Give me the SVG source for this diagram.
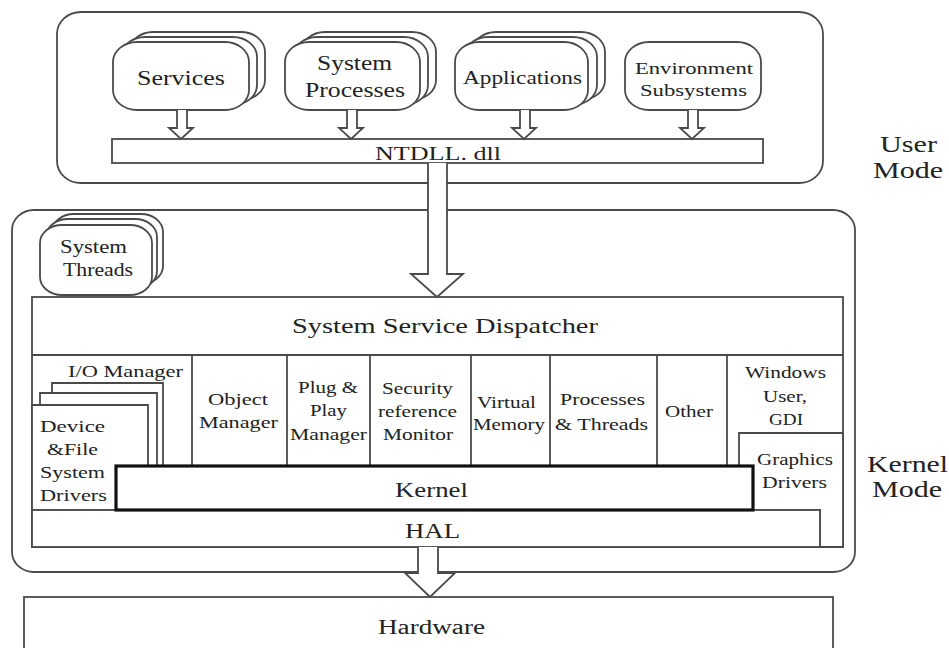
<svg xmlns="http://www.w3.org/2000/svg" width="949" height="648" viewBox="0 0 949 648">
<style>
.b{fill:#fff;stroke:#4a4a4a;stroke-width:1.8}
.l{fill:none;stroke:#4a4a4a;stroke-width:1.8}
.k{fill:#fff;stroke:#111;stroke-width:3.2}
.a{fill:#fff;stroke:#4a4a4a;stroke-width:1.8;stroke-linejoin:miter}
text{font-family:"Liberation Serif","Times New Roman",serif;fill:#222;font-size:17px}
.f20{font-size:20px}.f19{font-size:18.5px}.f16{font-size:17px}.f18{font-size:18px}.f21{font-size:21.5px}.f23{font-size:23px}
</style>
<rect width="949" height="648" fill="#fff"/>

<g id="user-mode-box">
<rect class="b" x="57" y="12" width="766" height="171" rx="24" ry="22"/>
</g>
<g id="user-mode-label">
<text class="f23" transform="translate(880,152) scale(1.28,1)" textLength="44.5" lengthAdjust="spacingAndGlyphs">User</text>
<text class="f23" transform="translate(873,178) scale(1.28,1)" textLength="54.7" lengthAdjust="spacingAndGlyphs">Mode</text>
</g>

<g id="services">
<rect class="b" x="129" y="32" width="136" height="68" rx="24" ry="20"/>
<rect class="b" x="121" y="37" width="136" height="68" rx="24" ry="20"/>
<rect class="b" x="113" y="42" width="136" height="68" rx="24" ry="20"/>
<text class="f20" transform="translate(137,85) scale(1.28,1)" textLength="68.7" lengthAdjust="spacingAndGlyphs">Services</text>
</g>
<g id="system-processes">
<rect class="b" x="301" y="32" width="135" height="68" rx="24" ry="20"/>
<rect class="b" x="293" y="37" width="135" height="68" rx="24" ry="20"/>
<rect class="b" x="285" y="42" width="135" height="68" rx="24" ry="20"/>
<text class="f20" transform="translate(317,70) scale(1.28,1)" textLength="58.6" lengthAdjust="spacingAndGlyphs">System</text>
<text class="f20" transform="translate(305,97) scale(1.28,1)" textLength="78.1" lengthAdjust="spacingAndGlyphs">Processes</text>
</g>
<g id="applications">
<rect class="b" x="472" y="32" width="133" height="68" rx="24" ry="20"/>
<rect class="b" x="464" y="37" width="133" height="68" rx="24" ry="20"/>
<rect class="b" x="455" y="42" width="133" height="68" rx="24" ry="20"/>
<text class="f19" transform="translate(463,84) scale(1.28,1)" textLength="93" lengthAdjust="spacingAndGlyphs">Applications</text>
</g>
<g id="environment-subsystems">
<rect class="b" x="625" y="42" width="136" height="68" rx="24" ry="20"/>
<text class="f16" transform="translate(635,74) scale(1.28,1)" textLength="92.2" lengthAdjust="spacingAndGlyphs">Environment</text>
<text class="f16" transform="translate(640,96) scale(1.28,1)" textLength="83.6" lengthAdjust="spacingAndGlyphs">Subsystems</text>
</g>
<g id="ntdll">
<rect class="b" x="112" y="139" width="651" height="24"/>
<text class="f19" transform="translate(375,160) scale(1.28,1)" textLength="98.4" lengthAdjust="spacingAndGlyphs">NTDLL. dll</text>
</g>

<g id="kernel-mode-box">
<rect class="b" x="12" y="210" width="843" height="362" rx="22" ry="20"/>
</g>
<g id="kernel-mode-label">
<text class="f23" transform="translate(867,472) scale(1.28,1)" textLength="63.3" lengthAdjust="spacingAndGlyphs">Kernel</text>
<text class="f23" transform="translate(872,497) scale(1.28,1)" textLength="54.7" lengthAdjust="spacingAndGlyphs">Mode</text>
</g>

<g id="system-threads">
<rect class="b" x="52" y="214" width="111" height="70" rx="22" ry="18"/>
<rect class="b" x="46" y="219" width="111" height="70" rx="22" ry="18"/>
<rect class="b" x="40" y="225" width="112" height="70" rx="22" ry="18"/>
<text class="f18" transform="translate(60,253) scale(1.28,1)" textLength="52.3" lengthAdjust="spacingAndGlyphs">System</text>
<text class="f18" transform="translate(63,276) scale(1.28,1)" textLength="54.7" lengthAdjust="spacingAndGlyphs">Threads</text>
</g>

<g id="system-service-dispatcher">
<rect class="b" x="32" y="297" width="811" height="250"/>
<line class="l" x1="32" y1="355" x2="843" y2="355"/>
<text class="f21" transform="translate(292,333) scale(1.28,1)" textLength="239" lengthAdjust="spacingAndGlyphs">System Service Dispatcher</text>
</g>

<g id="io-manager">
<line class="l" x1="192" y1="355" x2="192" y2="466"/>
<text transform="translate(68,377) scale(1.28,1)" textLength="89.8" lengthAdjust="spacingAndGlyphs">I/O Manager</text>
</g>
<g id="device-file-system-drivers">
<path class="b" d="M52,393 V383 H163 V466 H157"/>
<path class="b" d="M40,405 V393 H157 V466 H148"/>
<path class="b" d="M32,405 H148 V466 H116 V510 H32 Z"/>
<text transform="translate(40,432) scale(1.28,1)" textLength="50.8" lengthAdjust="spacingAndGlyphs">Device</text>
<text transform="translate(47,455) scale(1.28,1)" textLength="39.8" lengthAdjust="spacingAndGlyphs">&amp;File</text>
<text transform="translate(40,478) scale(1.28,1)" textLength="50.8" lengthAdjust="spacingAndGlyphs">System</text>
<text transform="translate(40,501) scale(1.28,1)" textLength="52.3" lengthAdjust="spacingAndGlyphs">Drivers</text>
</g>
<g id="object-manager">
<line class="l" x1="287" y1="355" x2="287" y2="466"/>
<text transform="translate(208,405) scale(1.28,1)" textLength="46.9" lengthAdjust="spacingAndGlyphs">Object</text>
<text transform="translate(199,428) scale(1.28,1)" textLength="61.7" lengthAdjust="spacingAndGlyphs">Manager</text>
</g>
<g id="plug-and-play-manager">
<line class="l" x1="370" y1="355" x2="370" y2="466"/>
<text transform="translate(298,393) scale(1.28,1)" textLength="46.9" lengthAdjust="spacingAndGlyphs">Plug &amp;</text>
<text transform="translate(310,416) scale(1.28,1)" textLength="28.9" lengthAdjust="spacingAndGlyphs">Play</text>
<text transform="translate(290,440) scale(1.28,1)" textLength="60.2" lengthAdjust="spacingAndGlyphs">Manager</text>
</g>
<g id="security-reference-monitor">
<line class="l" x1="471" y1="355" x2="471" y2="466"/>
<text transform="translate(382,394) scale(1.28,1)" textLength="55.5" lengthAdjust="spacingAndGlyphs">Security</text>
<text transform="translate(378,417) scale(1.28,1)" textLength="61.7" lengthAdjust="spacingAndGlyphs">reference</text>
<text transform="translate(383,440) scale(1.28,1)" textLength="54.7" lengthAdjust="spacingAndGlyphs">Monitor</text>
</g>
<g id="virtual-memory">
<line class="l" x1="550" y1="355" x2="550" y2="466"/>
<text transform="translate(477,408) scale(1.28,1)" textLength="46.1" lengthAdjust="spacingAndGlyphs">Virtual</text>
<text transform="translate(473,430) scale(1.28,1)" textLength="56.2" lengthAdjust="spacingAndGlyphs">Memory</text>
</g>
<g id="processes-threads">
<line class="l" x1="657" y1="355" x2="657" y2="466"/>
<text transform="translate(560,405) scale(1.28,1)" textLength="66.4" lengthAdjust="spacingAndGlyphs">Processes</text>
<text transform="translate(555,430) scale(1.28,1)" textLength="72.7" lengthAdjust="spacingAndGlyphs">&amp; Threads</text>
</g>
<g id="other">
<line class="l" x1="727" y1="355" x2="727" y2="466"/>
<text transform="translate(665,417) scale(1.28,1)" textLength="37.5" lengthAdjust="spacingAndGlyphs">Other</text>
</g>
<g id="windows-user-gdi">
<text transform="translate(745,378) scale(1.28,1)" textLength="63.3" lengthAdjust="spacingAndGlyphs">Windows</text>
<text transform="translate(763,402) scale(1.28,1)" textLength="34.4" lengthAdjust="spacingAndGlyphs">User,</text>
<text transform="translate(769,425) scale(1.28,1)" textLength="26.6" lengthAdjust="spacingAndGlyphs">GDI</text>
</g>
<g id="graphics-drivers">
<path class="b" d="M739,466 V433 H843 V547 H820 V510 H753 V466 Z"/>
<text transform="translate(757,465) scale(1.28,1)" textLength="59.4" lengthAdjust="spacingAndGlyphs">Graphics</text>
<text transform="translate(762,488) scale(1.28,1)" textLength="50.8" lengthAdjust="spacingAndGlyphs">Drivers</text>
</g>
<g id="hal">
<rect class="b" x="32" y="510" width="788" height="37"/>
<text class="f21" transform="translate(405,538) scale(1.28,1)" textLength="43" lengthAdjust="spacingAndGlyphs">HAL</text>
</g>
<g id="kernel">
<rect class="k" x="116" y="466" width="637" height="44"/>
<text class="f21" transform="translate(395,497) scale(1.28,1)" textLength="57" lengthAdjust="spacingAndGlyphs">Kernel</text>
</g>

<g id="hardware">
<rect class="b" x="24" y="597" width="809" height="70"/>
<text class="f20" transform="translate(378,634) scale(1.28,1)" textLength="83.6" lengthAdjust="spacingAndGlyphs">Hardware</text>
</g>

<g id="connectors">
<path class="a" d="M177,110 V128 H169 L181,139 L193,128 H187 V110"/>
<path class="a" d="M347,110 V128 H339 L351,139 L363,128 H357 V110"/>
<path class="a" d="M520,110 V128 H512 L524,139 L536,128 H530 V110"/>
<path class="a" d="M688,110 V128 H680 L692,139 L704,128 H698 V110"/>
<path class="a" d="M428,163 V274 H411 L437,297 L463,274 H447 V163"/>
<path class="a" d="M418,547 V573 H405 L430,597 L455,573 H438 V547"/>
</g>
</svg>
